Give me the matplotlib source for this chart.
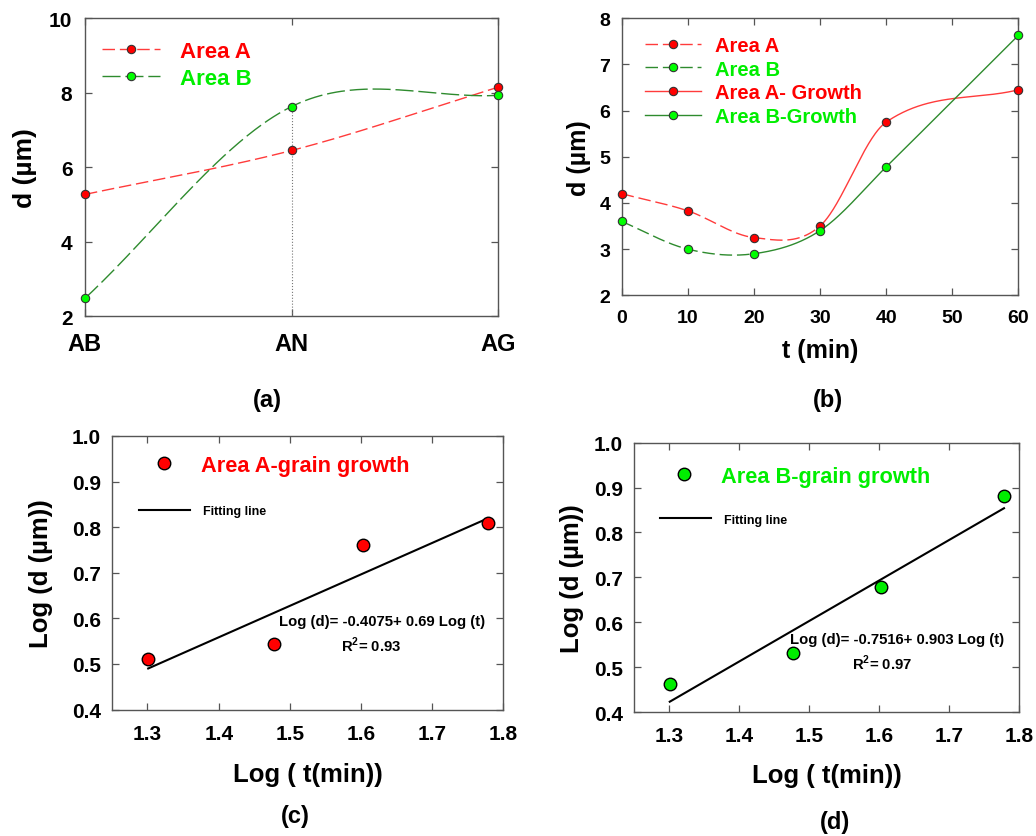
import numpy as np
import matplotlib
matplotlib.use('Agg')
import matplotlib.pyplot as plt
from matplotlib.lines import Line2D

plt.rcParams['font.family'] = ['Liberation Sans', 'DejaVu Sans']
plt.rcParams['font.weight'] = 'bold'
plt.rcParams['axes.labelweight'] = 'bold'
plt.rcParams['mathtext.fontset'] = 'custom'
plt.rcParams['mathtext.bf'] = 'Liberation Sans:bold'
plt.rcParams['mathtext.rm'] = 'Liberation Sans:bold'

# ============================================================
# DATA
# ============================================================
# (a) grain size per condition
cond = ['AB', 'AN', 'AG']
a_areaA = [5.27, 6.45, 8.15]
a_areaB = [2.48, 7.63, 7.93]

# (b) grain size vs annealing time
t_min = [0, 10, 20, 30, 40, 60]
b_areaA = [4.20, 3.83, 3.25, 3.50, 5.75, 6.45]
b_areaB = [3.60, 3.00, 2.90, 3.40, 4.78, 7.63]
growth_start_A = 30
growth_start_B = 20

# (c), (d) log-log growth fits
log_t = [1.301, 1.477, 1.602, 1.778]
c_logd = [0.512, 0.544, 0.760, 0.810]
d_logd = [0.462, 0.531, 0.679, 0.882]
c_fit = (-0.4075, 0.69, 0.93)
d_fit = (-0.7516, 0.903, 0.97)

RED = '#ff0000'
RED_LINE = '#ff3b3b'
GREEN = '#00ee00'
GREEN_LINE = '#2e8b2e'
SPINE = '#555555'


def smooth_curve(x, y, n=80):
    # Catmull-Rom style cubic Hermite through the points
    x = np.asarray(x, float)
    y = np.asarray(y, float)
    m = np.empty_like(y)
    m[0] = (y[1] - y[0]) / (x[1] - x[0])
    m[-1] = (y[-1] - y[-2]) / (x[-1] - x[-2])
    m[1:-1] = (y[2:] - y[:-2]) / (x[2:] - x[:-2])
    xs_all, ys_all = [], []
    for i in range(len(x) - 1):
        h = x[i + 1] - x[i]
        s = np.linspace(0, 1, n)
        h00 = 2 * s**3 - 3 * s**2 + 1
        h10 = s**3 - 2 * s**2 + s
        h01 = -2 * s**3 + 3 * s**2
        h11 = s**3 - s**2
        xs_all.append(x[i] + s * h)
        ys_all.append(h00 * y[i] + h10 * h * m[i] + h01 * y[i + 1] + h11 * h * m[i + 1])
    return np.concatenate(xs_all), np.concatenate(ys_all)


def style_axes(ax, size):
    for s in ax.spines.values():
        s.set_color(SPINE)
        s.set_linewidth(1.0)
    ax.tick_params(direction='in', top=True, right=True, length=5, width=0.9,
                   color=SPINE, labelsize=size)
    for lab in ax.get_xticklabels() + ax.get_yticklabels():
        lab.set_fontweight('bold')


fig = plt.figure(figsize=(10.36, 8.37), dpi=100)

# ============================================================
# (a)
# ============================================================
ax = fig.add_axes([0.082, 0.621, 0.399, 0.356])
xa = np.arange(len(cond))
xs, ys = smooth_curve(xa, a_areaA)
ax.plot(xs, ys, color=RED_LINE, lw=1.0, dashes=(9, 3.5))
xs, ys = smooth_curve(xa, a_areaB)
ax.plot(xs, ys, color=GREEN_LINE, lw=1.0, dashes=(13, 3.5))
ax.vlines(xa[1], 2, a_areaB[1], color='#777777', lw=0.8, linestyles=':')
ax.plot(xa, a_areaA, 'o', color=RED, mec='#333333', mew=0.8, ms=6, clip_on=False, zorder=5)
ax.plot(xa, a_areaB, 'o', color='#00ff00', mec='#333333', mew=0.8, ms=6, clip_on=False, zorder=5)
ax.set_xlim(0, 2)
ax.set_ylim(2, 10)
ax.set_xticks(xa)
ax.set_xticklabels(cond)
ax.set_yticks([2, 4, 6, 8, 10])
style_axes(ax, 15)
ax.tick_params(axis='x', labelsize=17, pad=11)
ax.tick_params(axis='y', pad=9)
ax.set_ylabel('d (µm)', fontsize=19, fontweight='bold')
ax.yaxis.set_label_coords(-0.116, 0.5)
h = [Line2D([], [], color=RED_LINE, lw=1.0, dashes=(9, 3.5), marker='o', mfc=RED,
            mec='#333333', mew=0.8, ms=6),
     Line2D([], [], color=GREEN_LINE, lw=1.0, dashes=(13, 3.5), marker='o', mfc='#00ff00',
            mec='#333333', mew=0.8, ms=6)]
leg = ax.legend(h, ['Area A', 'Area B'], loc='upper left', bbox_to_anchor=(0.041, 0.925),
                borderaxespad=0, borderpad=0, frameon=False, fontsize=16,
                handlelength=2.6, handletextpad=0.9, labelspacing=0.3)
for txt, c in zip(leg.get_texts(), [RED, GREEN]):
    txt.set_color(c)
    txt.set_fontweight('bold')

# ============================================================
# (b)  dashed part before growth, solid part from growth start
# ============================================================
ax = fig.add_axes([0.600, 0.646, 0.383, 0.331])
for vals, start, lc, mc in [(b_areaA, growth_start_A, RED_LINE, RED),
                            (b_areaB, growth_start_B, GREEN_LINE, '#00ff00')]:
    xs, ys = smooth_curve(t_min, vals)
    pre = xs <= start
    post = xs >= start
    ax.plot(xs[pre], ys[pre], color=lc, lw=1.0, dashes=(9, 3.5))
    ax.plot(xs[post], ys[post], color=lc, lw=1.0)
    ax.plot(t_min, vals, 'o', color=mc, mec='#333333', mew=0.8, ms=6, clip_on=False, zorder=5)
ax.set_xlim(0, 60)
ax.set_ylim(2, 8)
ax.set_xticks([0, 10, 20, 30, 40, 50, 60])
ax.set_yticks([2, 3, 4, 5, 6, 7, 8])
style_axes(ax, 14)
ax.tick_params(axis='x', pad=10)
ax.tick_params(axis='y', pad=8)
ax.set_xlabel('t (min)', fontsize=18, fontweight='bold')
ax.xaxis.set_label_coords(0.5, -0.155)
ax.set_ylabel('d (µm)', fontsize=18, fontweight='bold')
ax.yaxis.set_label_coords(-0.078, 0.5)
h = [Line2D([], [], color=RED_LINE, lw=1.0, dashes=(9, 3.5), marker='o', mfc=RED,
            mec='#333333', mew=0.8, ms=6),
     Line2D([], [], color=GREEN_LINE, lw=1.0, dashes=(9, 3.5), marker='o', mfc='#00ff00',
            mec='#333333', mew=0.8, ms=6),
     Line2D([], [], color=RED_LINE, lw=1.0, marker='o', mfc=RED, mec='#333333', mew=0.8, ms=6),
     Line2D([], [], color=GREEN_LINE, lw=1.0, marker='o', mfc='#00ff00', mec='#333333',
            mew=0.8, ms=6)]
leg = ax.legend(h, ['Area A', 'Area B', 'Area A- Growth', 'Area B-Growth'],
                loc='upper left', bbox_to_anchor=(0.058, 0.937), borderaxespad=0,
                borderpad=0, frameon=False, fontsize=14.5,
                handlelength=2.8, handletextpad=0.7, labelspacing=0.24)
for txt, c in zip(leg.get_texts(), [RED, GREEN, RED, GREEN]):
    txt.set_color(c)
    txt.set_fontweight('bold')


# ============================================================
# (c), (d)
# ============================================================
def loglog_panel(rect, vals, fit, col, label, leg1, leg2, eq_pos, r2_pos, ylab_x):
    ax = fig.add_axes(rect)
    b0, b1, r2 = fit
    xf = np.array([log_t[0], log_t[-1]])
    ax.plot(xf, b0 + b1 * xf, color='black', lw=1.5)
    ax.plot(log_t, vals, 'o', color=col, mec='black', mew=1.0, ms=9, zorder=5,
            linestyle='none')
    ax.set_xlim(1.25, 1.8)
    ax.set_ylim(0.4, 1.0)
    ax.set_xticks([1.3, 1.4, 1.5, 1.6, 1.7, 1.8])
    ax.set_yticks([0.4, 0.5, 0.6, 0.7, 0.8, 0.9, 1.0])
    ax.set_yticklabels(['0.4', '0.5', '0.6', '0.7', '0.8', '0.9', '1.0'])
    style_axes(ax, 15)
    ax.tick_params(axis='x', pad=10)
    ax.tick_params(axis='y', pad=8)
    ax.set_xlabel('Log ( t(min))', fontsize=18.5, fontweight='bold')
    ax.xaxis.set_label_coords(0.5, -0.19)
    ax.set_ylabel('Log (d (µm))', fontsize=18.5, fontweight='bold')
    ax.yaxis.set_label_coords(ylab_x, 0.5)

    hm = Line2D([], [], linestyle='none', marker='o', mfc=col, mec='black', mew=1.0, ms=9)
    l1 = ax.legend([hm], [label], loc='upper left', bbox_to_anchor=leg1, borderaxespad=0,
                   borderpad=0, frameon=False, fontsize=15.7, handlelength=2.0,
                   handletextpad=0.7)
    for txt in l1.get_texts():
        txt.set_color(col)
        txt.set_fontweight('bold')
    ax.add_artist(l1)
    hl = Line2D([], [], color='black', lw=1.5)
    l2 = ax.legend([hl], ['Fitting line'], loc='upper left', bbox_to_anchor=leg2,
                   borderaxespad=0, borderpad=0, frameon=False, fontsize=9,
                   handlelength=4.1, handletextpad=1.0)
    for txt in l2.get_texts():
        txt.set_fontweight('bold')

    ax.text(eq_pos[0], eq_pos[1], f'Log (d)= {b0}+ {b1} Log (t)', transform=ax.transAxes,
            ha='center', va='center', fontsize=10.7, fontweight='bold')
    ax.text(r2_pos[0], r2_pos[1], r'R$^{\mathbf{2}}$= ' + f'{r2:.2f}', transform=ax.transAxes,
            ha='center', va='center', fontsize=10.7, fontweight='bold')
    return ax


loglog_panel([0.108, 0.151, 0.378, 0.327], c_logd, c_fit, RED, 'Area A-grain growth',
             (0.077, 0.931), (0.069, 0.748), (0.691, 0.325), (0.661, 0.237), -0.151)
loglog_panel([0.612, 0.148, 0.372, 0.322], d_logd, d_fit, '#00ee00', 'Area B-grain growth',
             (0.073, 0.914), (0.068, 0.736), (0.683, 0.271), (0.644, 0.186), -0.130)

# panel labels
for x, y, s in [(0.258, 0.522, '(a)'), (0.799, 0.522, '(b)'),
                (0.285, 0.024, '(c)'), (0.806, 0.017, '(d)')]:
    fig.text(x, y, s, ha='center', va='center', fontsize=17, fontweight='bold')

plt.savefig('out.png', dpi=100)
